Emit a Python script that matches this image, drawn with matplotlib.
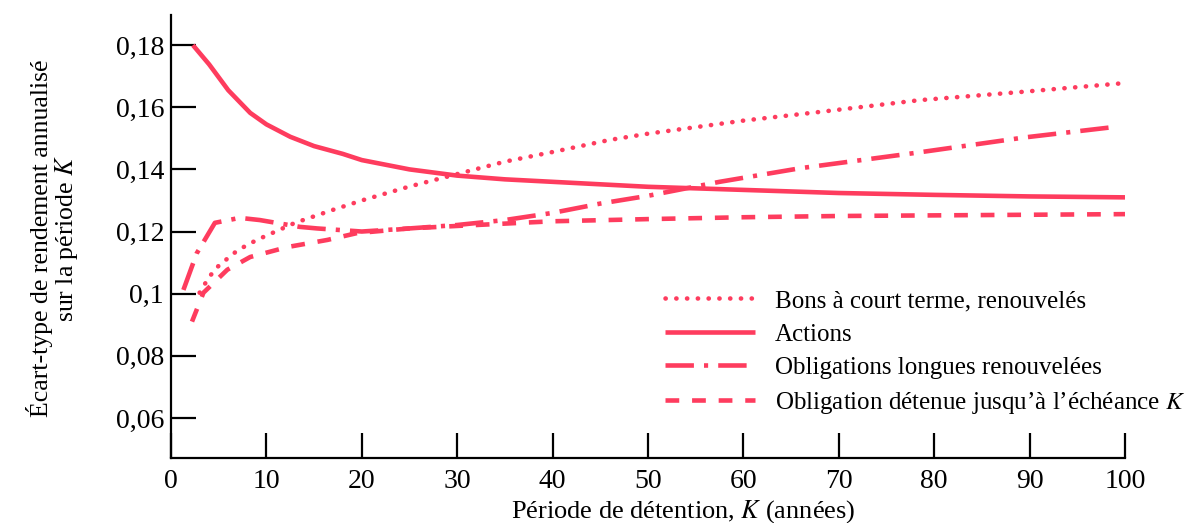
import matplotlib
matplotlib.use("Agg")
import matplotlib.pyplot as plt

plt.rcParams["font.family"] = ["Liberation Serif", "DejaVu Serif"]
plt.rcParams["mathtext.fontset"] = "stix"

# Actions
k_actions = [2.3, 4, 6, 8.3, 10, 12.5, 15, 18, 20, 25, 30, 35, 40, 50, 60, 70, 80, 90, 100]
y_actions = [0.180, 0.1738, 0.1655, 0.1582, 0.1545, 0.1505, 0.1475, 0.145, 0.143, 0.140,
             0.138, 0.1368, 0.136, 0.1344, 0.1334, 0.1324, 0.1318, 0.1313, 0.1310]

# Bons à court terme, renouvelés
k_bons = [3, 4, 5, 7, 9, 13, 17, 20, 25, 30, 35, 40, 46, 50, 60, 68, 78.5, 89, 100]
y_bons = [0.1003, 0.1054, 0.109, 0.114, 0.1173, 0.1228, 0.127, 0.130, 0.1345, 0.1385,
          0.1425, 0.1456, 0.1495, 0.1515, 0.1557, 0.1585, 0.1623, 0.1649, 0.1678]

# Obligations longues renouvelées
k_longues = [1.3, 2.7, 4.6, 7.2, 9.3, 13.5, 15.3, 20, 25, 30, 35, 40, 45, 50, 57.5,
             66, 78, 89.5, 99]
y_longues = [0.1012, 0.113, 0.1228, 0.1244, 0.1237, 0.1215, 0.121, 0.120, 0.121, 0.1221,
             0.1237, 0.126, 0.129, 0.1315, 0.136, 0.1404, 0.1453, 0.1503, 0.1537]

# Obligation détenue jusqu'à l'échéance K
k_detenue = [2.2, 3.4, 5.9, 8.3, 12.2, 16.4, 19.5, 25, 30, 40, 50, 60, 70, 80, 90, 100]
y_detenue = [0.091, 0.1003, 0.1077, 0.1118, 0.115, 0.1173, 0.1195, 0.121, 0.1218, 0.1233,
             0.124, 0.1246, 0.125, 0.1252, 0.1254, 0.1256]

x_ticks = [0, 10, 20, 30, 40, 50, 60, 70, 80, 90, 100]
y_ticks = [0.06, 0.08, 0.10, 0.12, 0.14, 0.16, 0.18]
y_tick_labels = ["0,06", "0,08", "0,1", "0,12", "0,14", "0,16", "0,18"]

color = "#fe3c5e"
lw = 3.3

fig = plt.figure(figsize=(12, 5.23), dpi=100)
ax = fig.add_axes([0.1425, 0.1243, 0.795, 0.847])

ax.plot(k_bons, y_bons, color=color, lw=lw, linestyle=(0, (0.05, 2.3)),
        dash_capstyle="round", label="Bons à court terme, renouvelés")
ax.plot(k_actions, y_actions, color=color, lw=lw, solid_capstyle="butt",
        label="Actions")
ax.plot(k_longues, y_longues, color=color, lw=lw, linestyle=(0, (6.2, 2.2, 0.9, 2.2)),
        label="Obligations longues renouvelées")
ax.plot(k_detenue, y_detenue, color=color, lw=lw, linestyle=(0, (3.0, 2.8)),
        label="Obligation détenue jusqu’à l’échéance $\\mathit{K}$")

ax.set_xlim(0, 100)
ax.set_ylim(0.0471, 0.1897)
ax.set_xticks(x_ticks)
ax.set_yticks(y_ticks)
ax.set_yticklabels(y_tick_labels)

for side in ["top", "right"]:
    ax.spines[side].set_visible(False)
for side in ["left", "bottom"]:
    ax.spines[side].set_linewidth(1.6)
ax.tick_params(direction="in", length=18, width=1.6, labelsize=20)
ax.tick_params(axis="y", pad=5)
ax.tick_params(axis="x", pad=8)

leg = ax.legend(loc="upper left", bbox_to_anchor=(0.518, 0.38), frameon=False,
                fontsize=18, handlelength=3.6, handletextpad=0.8,
                labelspacing=0.44, borderpad=0, borderaxespad=0)

fig.text(0.044, 0.545, "Écart-type de rendement annualisé\nsur la période $\\mathit{K}$",
         rotation=90, ha="center", va="center", fontsize=18.5, linespacing=1.0,
         multialignment="center")
fig.text(0.569, 0.022, "Période de détention, $\\mathit{K}$ (années)",
         ha="center", va="center", fontsize=19)

fig.savefig("out.png", dpi=100)
